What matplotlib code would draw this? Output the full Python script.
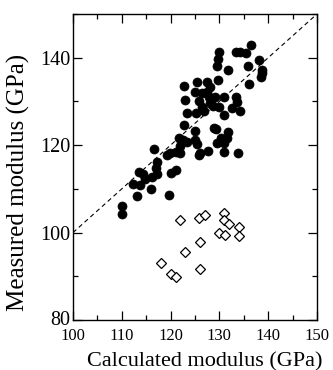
import numpy as np
import matplotlib
matplotlib.use("Agg")
import matplotlib.pyplot as plt
import matplotlib.transforms as mtransforms
from matplotlib.ticker import MultipleLocator

# filled circles: calculated vs measured modulus (GPa)
calc_filled = [136.5, 129.9, 133.4, 134.2, 135.5, 129.7, 138.2, 129.6, 131.7, 135.9,
               138.7, 138.7, 138.5, 125.4, 127.4, 129.8, 122.8, 128.1, 136.1, 125.0,
               126.4, 127.5, 127.8, 129.1, 130.9, 133.4, 123.0, 125.8, 128.1, 133.7,
               126.4, 128.6, 129.9, 132.6, 123.3, 125.3, 126.8, 134.2, 130.9, 122.7,
               128.9, 129.4, 124.9, 131.8, 121.8, 122.6, 123.4, 125.0, 130.3, 131.6,
               129.6, 131.0, 121.9, 125.4, 116.7, 121.1, 119.9, 119.2, 121.9, 126.0,
               125.8, 127.7, 130.9, 133.9, 117.2, 113.6, 114.4, 116.1, 117.0, 117.3,
               120.1, 121.1, 112.2, 113.7, 114.8, 113.2, 116.0, 119.7, 110.0, 110.0]
meas_filled = [142.9, 141.2, 141.2, 141.2, 141.0, 139.6, 139.5, 138.0, 137.2, 138.1,
               137.2, 136.4, 135.7, 134.5, 134.5, 134.9, 133.5, 133.4, 133.9, 132.2,
               132.0, 132.2, 131.1, 131.1, 131.1, 130.9, 130.3, 130.1, 129.6, 129.9,
               128.8, 129.0, 128.8, 128.4, 127.4, 127.4, 127.7, 127.7, 126.9, 124.6,
               124.0, 123.6, 123.3, 123.1, 121.6, 121.2, 120.8, 121.2, 121.6, 121.7,
               120.4, 120.4, 119.9, 120.2, 119.2, 118.4, 118.3, 117.7, 118.1, 118.3,
               117.7, 118.7, 118.5, 118.3, 116.2, 113.9, 113.4, 112.8, 114.7, 113.4,
               113.6, 114.3, 111.1, 110.9, 112.2, 108.4, 110.0, 108.6, 106.1, 104.2]

# open diamonds
calc_open = [121.9, 125.9, 127.0, 131.0, 131.0, 132.0, 134.0, 134.0,
             129.9, 131.1, 126.0, 123.0, 118.0, 120.0, 121.1, 126.0]
meas_open = [102.9, 103.3, 104.0, 104.5, 102.9, 102.0, 101.3, 99.3,
             99.8, 99.4, 97.8, 95.5, 93.0, 90.5, 89.8, 91.6]

plt.rcParams['font.family'] = ['Liberation Serif', 'DejaVu Serif']

fig = plt.figure(figsize=(3.33, 3.70), dpi=100)
ax = fig.add_axes([0.2192, 0.1351, 0.7328, 0.8271])

ax.plot([100, 150], [100, 150], linestyle=(0, (4, 3)), color='black', linewidth=0.8)
ax.plot(calc_filled, meas_filled, 'o', color='black', markersize=6.5,
        markeredgewidth=0.5)
ax.plot(calc_open, meas_open, 'D', markerfacecolor='white', markeredgecolor='black',
        markersize=4.8, markeredgewidth=0.9)

ax.set_xlim(100, 150)
ax.set_ylim(80, 150)
ax.xaxis.set_major_locator(MultipleLocator(10))
ax.xaxis.set_minor_locator(MultipleLocator(5))
ax.yaxis.set_major_locator(MultipleLocator(20))
ax.yaxis.set_minor_locator(MultipleLocator(10))
ax.set_yticks([80, 100, 120, 140])
ax.tick_params(which='both', direction='in', top=True, right=True, width=0.9)
ax.tick_params(axis='x', labelsize=12, pad=5.5)
ax.tick_params(axis='y', labelsize=14.5, pad=2)
ax.tick_params(which='major', length=6.5)
ax.tick_params(which='minor', length=3.5)
for s in ax.spines.values():
    s.set_linewidth(1.0)

# lift the "80" label a little, as in the original, so it clears "100"
lbl80 = ax.get_yticklabels()[0]
lbl80.set_transform(lbl80.get_transform() +
                    mtransforms.ScaledTranslation(0, 1.5 / 72, fig.dpi_scale_trans))

ax.set_xlabel("Calculated modulus (GPa)", fontsize=16)
ax.set_ylabel("Measured modulus (GPa)", fontsize=18)
ax.xaxis.set_label_coords(0.541, -0.105)
ax.yaxis.set_label_coords(-0.175, 0.45)

fig.savefig("out.png", dpi=100)
